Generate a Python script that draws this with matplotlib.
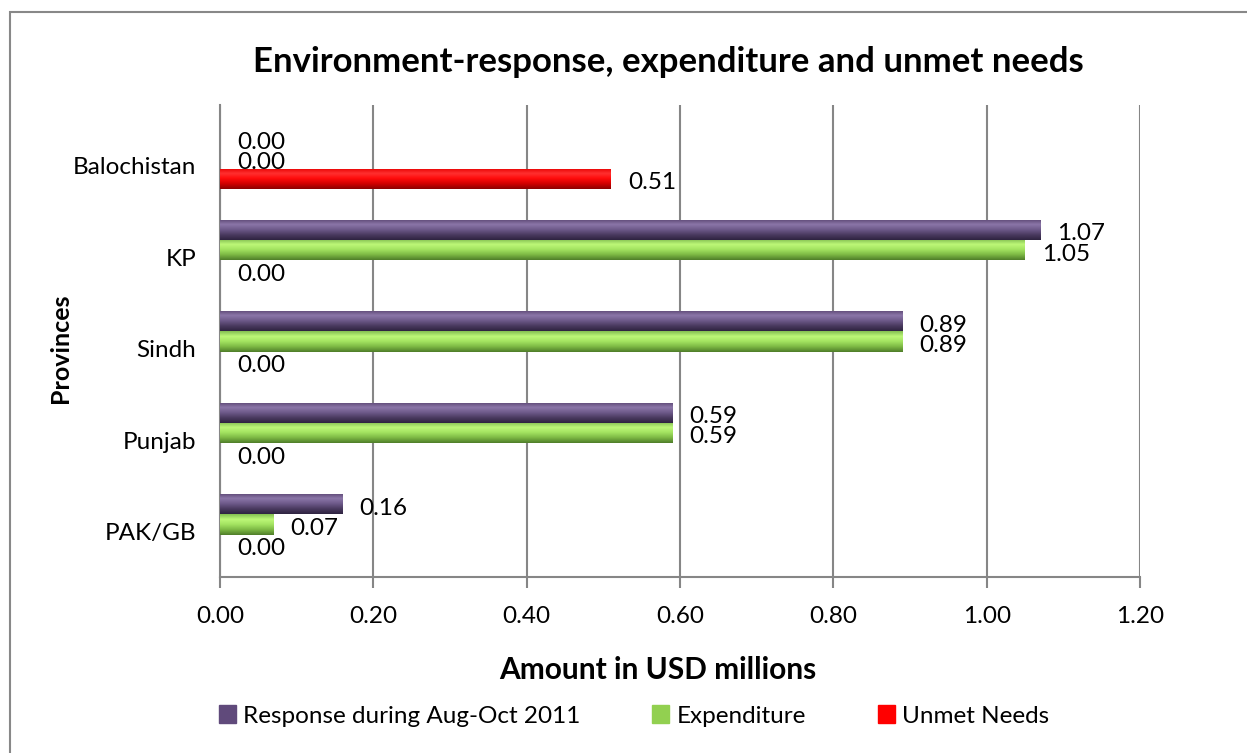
import numpy as np
import matplotlib
matplotlib.use("Agg")
import matplotlib.pyplot as plt
from matplotlib.patches import Rectangle
from matplotlib.colors import LinearSegmentedColormap

plt.rcParams['font.family'] = ['Lato', 'DejaVu Sans']

# data (top to bottom as shown)
provinces = ['Balochistan', 'KP', 'Sindh', 'Punjab', 'PAK/GB']
response = [0.00, 1.07, 0.89, 0.59, 0.16]
expenditure = [0.00, 1.05, 0.89, 0.59, 0.07]
unmet = [0.51, 0.00, 0.00, 0.00, 0.00]
series_names = ['Response during Aug-Oct 2011', 'Expenditure', 'Unmet Needs']
x_ticks = [0.0, 0.2, 0.4, 0.6, 0.8, 1.0, 1.2]

# base colour + gradient stops (top -> bottom of bar)
colors = ['#604A7B', '#92D050', '#FF0000']
gradients = [
    ['#5c4874', '#8b76a8', '#6e5a8a', '#4a3a60', '#2f2440'],
    ['#84bf52', '#bdf878', '#a2e260', '#7cb844', '#4f7d2a'],
    ['#e80000', '#ff3030', '#ff0a0a', '#d00000', '#8c0000'],
]

fs = 17.5

fig = plt.figure(figsize=(12.47, 7.53), dpi=100)
ax = fig.add_axes([220 / 1247, 1 - 577 / 753, 920 / 1247, 472 / 753])

h = 0.219
y = np.arange(len(provinces))
offsets = [-h, 0, h]
all_vals = [response, expenditure, unmet]

for vals, off, col, grad in zip(all_vals, offsets, colors, gradients):
    bars = ax.barh(y + off, vals, height=h, color=col, edgecolor='none', zorder=3)
    cmap = LinearSegmentedColormap.from_list('g', grad)
    for b, v in zip(bars, vals):
        if v > 0:
            x0, y0 = b.get_x(), b.get_y()
            im = ax.imshow(np.linspace(0, 1, 64).reshape(-1, 1), cmap=cmap, aspect='auto',
                           extent=[x0, x0 + b.get_width(), y0 + h, y0], zorder=4,
                           interpolation='bilinear')
            im.set_clip_path(b)
        ax.annotate(f'{v:.2f}', xy=(v, b.get_y() + h / 2), xytext=(17, -4),
                    textcoords='offset pixels', ha='left', va='center',
                    fontsize=fs, color='black', zorder=5)

ax.set_xlim(0, 1.2)
ax.set_ylim(4 + 0.574, -0.585)
ax.set_xticks(x_ticks)
ax.set_xticklabels([f'{t:.2f}' for t in x_ticks], fontsize=fs)
ax.set_yticks(y + 0.08)
ax.set_yticklabels(provinces, fontsize=fs)
ax.tick_params(axis='y', length=0, pad=17)
ax.tick_params(axis='x', length=8, width=1.5, color='#868686', direction='out', pad=13)
ax.grid(axis='x', color='#868686', linewidth=1.5, zorder=0)
ax.set_axisbelow(True)
for s in ['top', 'right']:
    ax.spines[s].set_visible(False)
for s in ['left', 'bottom']:
    ax.spines[s].set_color('#868686')
    ax.spines[s].set_linewidth(1.5)

fig.text(0.536, 1 - 62 / 753, 'Environment-response, expenditure and unmet needs',
         ha='center', va='center', fontsize=25, fontweight='bold')
fig.text(658 / 1247, 1 - 670 / 753, 'Amount in USD millions', ha='center', va='center',
         fontsize=21.5, fontweight='bold')
fig.text(60 / 1247, 1 - 348 / 753, 'Provinces', ha='center', va='center', rotation=90,
         fontsize=18, fontweight='bold')

# legend entries, positioned one by one like the original
legend_x = [219, 652, 878]
for name, col, lx in zip(series_names, colors, legend_x):
    leg = fig.legend([Rectangle((0, 0), 1, 1, color=col)], [name], loc='center left',
                     bbox_to_anchor=(lx / 1247, 1 - 716 / 753), frameon=False, fontsize=fs,
                     handlelength=0.7, handleheight=0.7, handletextpad=0.3,
                     borderpad=0, borderaxespad=0)

# outer chart border
fig.patches.append(Rectangle((10 / 1247, -0.01), 1.2, 1 - 12 / 753 + 0.01, transform=fig.transFigure,
                             fill=False, edgecolor='#888888', linewidth=1.5))

fig.savefig('out.png', dpi=100)
